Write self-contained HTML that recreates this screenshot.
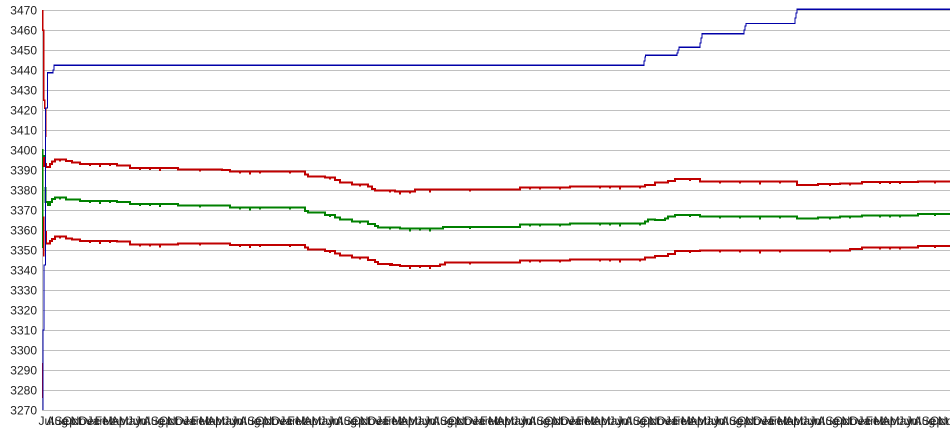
<!DOCTYPE html>
<html><head><meta charset="utf-8"><style>
html,body{margin:0;padding:0;background:#fff;}
svg{display:block;}
text{font-family:"Liberation Sans",Arial,sans-serif;font-size:12px;fill:#222;}
</style></head><body>
<svg width="950" height="435" viewBox="0 0 950 435" xmlns="http://www.w3.org/2000/svg">
<g stroke="#c0c0c0" stroke-width="1" shape-rendering="crispEdges">
<path d="M42,10.5H950M42,30.5H950M42,50.5H950M42,70.5H950M42,90.5H950M42,110.5H950M42,130.5H950M42,150.5H950M42,170.5H950M42,190.5H950M42,210.5H950M42,230.5H950M42,250.5H950M42,270.5H950M42,290.5H950M42,310.5H950M42,330.5H950M42,350.5H950M42,370.5H950M42,390.5H950M42,410.5H950"/>
<path d="M42.5,10V411"/>
</g>
<g text-anchor="end">
<text x="37" y="14.5">3470</text><text x="37" y="34.5">3460</text><text x="37" y="54.5">3450</text><text x="37" y="74.5">3440</text><text x="37" y="94.5">3430</text><text x="37" y="114.5">3420</text><text x="37" y="134.5">3410</text><text x="37" y="154.5">3400</text><text x="37" y="174.5">3390</text><text x="37" y="194.5">3380</text><text x="37" y="214.5">3370</text><text x="37" y="234.5">3360</text><text x="37" y="254.5">3350</text><text x="37" y="274.5">3340</text><text x="37" y="294.5">3330</text><text x="37" y="314.5">3320</text><text x="37" y="334.5">3310</text><text x="37" y="354.5">3300</text><text x="37" y="374.5">3290</text><text x="37" y="394.5">3280</text><text x="37" y="414.5">3270</text>
</g>
<g fill="none" shape-rendering="crispEdges">
<!-- green mean -->
<g stroke="#008000" stroke-width="2">
<path d="M42.5,149V248" stroke-width="1.5"/>
<path d="M44,155V162"/>
<path d="M45.5,187V202H48V205H50V202H52V199H55V197.5H66V199.5H80V201H117V202H130V204H178V205.5H230V207.5H305V211H308V212.7H325V215H335V217.3H340V219.3H352V221.7H368V224H375V226H378V227.3H400V228.5H443V227H520V224.3H570V223.3H645V221.7H648V219.3H655V220H665V218.7H668V216.7H675V215H700V216.5H797V218.3H818V217.3H840V216.7H862V215.3H918V214H950"/>
<path d="M60,197.5v2M90,201v2M100,201v3M110,201v2M140,204v2M150,204v2M160,204v3M200,205.5v2M240,207.5v2M250,207.5v3M260,207.5v2M290,207.5v2M330,215v2M360,221.7v2M390,227.3v2M410,228.5v3M420,228.5v2M430,228.5v3M470,227v2M530,224.3v2M540,224.3v2M560,224.3v2M600,223.3v2M610,223.3v2M620,223.3v3M640,223.3v2M690,215v2M720,216.5v2M740,216.5v2M760,216.5v3M780,216.5v2M830,217.3v2M850,216.7v2M880,215.3v2M890,215.3v2M900,215.3v2M935,214v2"/>
</g>
<!-- upper red -->
<g stroke="#c00000" stroke-width="2">
<path d="M42.5,10V30H43.5V100H44.5V108H45.5V137" stroke-width="1.5"/>
<path d="M44,157V167"/>
<path d="M46,163V167H50V164H52V161.7H55V159.3H66V161H72V162.3H80V164H117V165.7H130V168H178V169.3H222V170H230V171.7H305V174.3H308V176.3H325V177.7H335V180H340V182.3H352V184.3H368V186.7H372V189H375V190.7H395V191.5H415V189.3H520V187.7H570V186.7H645V185H655V182.7H668V181H675V179H700V181.3H797V185H818V184H840V183.3H862V182H918V181.3H950"/>
<path d="M60,159.3v2M90,164v2M100,164v3M110,164v2M140,168v2M150,168v2M160,168v3M200,169.3v2M240,171.7v2M250,171.7v3M260,171.7v2M290,171.7v2M330,177.7v2M360,184.3v2M390,190.7v2M400,191.5v3M410,191.5v2M430,189.3v3M470,189.3v2M530,187.7v2M540,187.7v2M560,187.7v2M600,186.7v2M610,186.7v2M620,186.7v3M640,186.7v2M690,179v2M720,181.3v2M740,181.3v2M760,181.3v3M780,181.3v2M830,184v2M850,183.3v2M880,182v2M890,182v2M900,182v2M935,181.3v2"/>
</g>
<!-- lower red -->
<g stroke="#c00000" stroke-width="2">
<path d="M43.5,216.7V256.7" stroke-width="1.5"/>
<path d="M42.5,363V398" stroke-width="1.5"/>
<path d="M46,231V243.3H50V241H52V239H55V236.7H66V238.3H72V239.3H80V241H117V241.7H130V244.3H178V243.3H230V245H305V247.3H308V249.3H325V251H335V253.3H340V255.3H352V257.7H368V260H375V262H378V264H392V265H400V266H440V264.3H445V262.3H520V260.7H570V259.3H645V257.7H655V256H668V254H675V251H700V250.5H850V249H862V247.7H918V246H950"/>
<path d="M60,236.7v2M90,241v2M100,241v3M110,241v2M140,244.3v2M150,244.3v2M160,244.3v3M200,243.3v2M240,245v2M250,245v3M260,245v2M290,245v2M330,251v2M360,257.7v2M390,264v2M410,266v3M420,266v2M430,266v3M470,262.3v2M530,260.7v2M540,260.7v2M560,260.7v2M600,259.3v2M610,259.3v2M620,259.3v3M640,259.3v2M690,251v2M720,250.5v2M740,250.5v2M760,250.5v3M780,250.5v2M830,250.5v2M850,249v2M880,247.7v2M890,247.7v2M900,247.7v2M935,246v2"/>
</g>
<!-- blue max -->
<path stroke="#0000a8" stroke-width="1.3" d="M43,410V330H44V265H45.5V108H47.5V72.7H53V70H54V65.3H644V61H645V57H645.5V55.3H677V53H678V50H679V47.3H700V43H701V38H702V33.7H744V30H745V26H746V23.5H795V18H796V13H797V9.3H950"/>
</g>
<g transform="translate(2.5,0)">
<text x="36" y="425">Jul</text><text x="44.03" y="425">Aug</text><text x="52.06" y="425">Sep</text><text x="60.09" y="425">Oct</text><text x="68.12" y="425">Nov</text><text x="76.15" y="425">Dec</text><text x="84.18" y="425">Jan</text><text x="92.21" y="425">Feb</text><text x="100.24" y="425">Mar</text><text x="108.27" y="425">Apr</text><text x="116.3" y="425">May</text><text x="124.33" y="425">Jun</text>
<text x="132.36" y="425">Jul</text><text x="140.39" y="425">Aug</text><text x="148.42" y="425">Sep</text><text x="156.45" y="425">Oct</text><text x="164.48" y="425">Nov</text><text x="172.51" y="425">Dec</text><text x="180.54" y="425">Jan</text><text x="188.57" y="425">Feb</text><text x="196.6" y="425">Mar</text><text x="204.63" y="425">Apr</text><text x="212.66" y="425">May</text><text x="220.69" y="425">Jun</text>
<text x="228.72" y="425">Jul</text><text x="236.75" y="425">Aug</text><text x="244.78" y="425">Sep</text><text x="252.81" y="425">Oct</text><text x="260.84" y="425">Nov</text><text x="268.87" y="425">Dec</text><text x="276.9" y="425">Jan</text><text x="284.93" y="425">Feb</text><text x="292.96" y="425">Mar</text><text x="300.99" y="425">Apr</text><text x="309.02" y="425">May</text><text x="317.05" y="425">Jun</text>
<text x="325.08" y="425">Jul</text><text x="333.11" y="425">Aug</text><text x="341.14" y="425">Sep</text><text x="349.17" y="425">Oct</text><text x="357.2" y="425">Nov</text><text x="365.23" y="425">Dec</text><text x="373.26" y="425">Jan</text><text x="381.29" y="425">Feb</text><text x="389.32" y="425">Mar</text><text x="397.35" y="425">Apr</text><text x="405.38" y="425">May</text><text x="413.41" y="425">Jun</text>
<text x="421.44" y="425">Jul</text><text x="429.47" y="425">Aug</text><text x="437.5" y="425">Sep</text><text x="445.53" y="425">Oct</text><text x="453.56" y="425">Nov</text><text x="461.59" y="425">Dec</text><text x="469.62" y="425">Jan</text><text x="477.65" y="425">Feb</text><text x="485.68" y="425">Mar</text><text x="493.71" y="425">Apr</text><text x="501.74" y="425">May</text><text x="509.77" y="425">Jun</text>
<text x="517.8" y="425">Jul</text><text x="525.83" y="425">Aug</text><text x="533.86" y="425">Sep</text><text x="541.89" y="425">Oct</text><text x="549.92" y="425">Nov</text><text x="557.95" y="425">Dec</text><text x="565.98" y="425">Jan</text><text x="574.01" y="425">Feb</text><text x="582.04" y="425">Mar</text><text x="590.07" y="425">Apr</text><text x="598.1" y="425">May</text><text x="606.13" y="425">Jun</text>
<text x="614.16" y="425">Jul</text><text x="622.19" y="425">Aug</text><text x="630.22" y="425">Sep</text><text x="638.25" y="425">Oct</text><text x="646.28" y="425">Nov</text><text x="654.31" y="425">Dec</text><text x="662.34" y="425">Jan</text><text x="670.37" y="425">Feb</text><text x="678.4" y="425">Mar</text><text x="686.43" y="425">Apr</text><text x="694.46" y="425">May</text><text x="702.49" y="425">Jun</text>
<text x="710.52" y="425">Jul</text><text x="718.55" y="425">Aug</text><text x="726.58" y="425">Sep</text><text x="734.61" y="425">Oct</text><text x="742.64" y="425">Nov</text><text x="750.67" y="425">Dec</text><text x="758.7" y="425">Jan</text><text x="766.73" y="425">Feb</text><text x="774.76" y="425">Mar</text><text x="782.79" y="425">Apr</text><text x="790.82" y="425">May</text><text x="798.85" y="425">Jun</text>
<text x="806.88" y="425">Jul</text><text x="814.91" y="425">Aug</text><text x="822.94" y="425">Sep</text><text x="830.97" y="425">Oct</text><text x="839" y="425">Nov</text><text x="847.03" y="425">Dec</text><text x="855.06" y="425">Jan</text><text x="863.09" y="425">Feb</text><text x="871.12" y="425">Mar</text><text x="879.15" y="425">Apr</text><text x="887.18" y="425">May</text><text x="895.21" y="425">Jun</text>
<text x="903.24" y="425">Jul</text><text x="911.27" y="425">Aug</text><text x="919.3" y="425">Sep</text><text x="927.33" y="425">Oct</text><text x="935.36" y="425">Nov</text>
</g>
</svg>
</body></html>
